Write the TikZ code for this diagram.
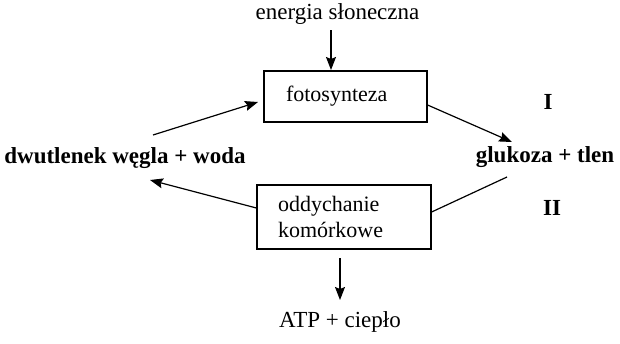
\documentclass[tikz,border=0pt]{standalone}
\usepackage{fontspec}
\setmainfont{Liberation Serif}
\usetikzlibrary{arrows.meta, positioning, calc}
\tikzset{
    plain/.style={font=\fontsize{23}{27}\selectfont, inner sep=0pt},
    heavy/.style={font=\fontsize{23}{27}\selectfont\bfseries, inner sep=0pt},
    procbox/.style={rectangle, draw=black, line width=1.2pt, align=left, font=\fontsize{22}{26}\selectfont, inner ysep=0pt},
    arrow/.style={line width=1.2pt, -{Stealth[length=13pt, width=10pt, inset=2pt]}},
    link/.style={line width=1.2pt}
}
\begin{document}
\begin{tikzpicture}[x=1pt, y=-1pt]
        \useasboundingbox (0,0) rectangle (620,343);
        % Labels
        \node[plain] (sun) at (337.5,14) {energia słoneczna};
        \node[heavy] (dwu) at (125,158) {dwutlenek węgla + woda};
        \node[heavy] (glu) at (545,157) {glukoza + tlen};
        \node[heavy] (lblI) at (548,102) {I};
        \node[heavy] (lblII) at (552,208) {II};
        \node[plain] (atp) at (340,322) {ATP + ciepło};
        
        % Processes
        \node[procbox, minimum width=163pt, minimum height=51pt, inner xsep=22pt, text width=119pt] (foto) at (345.5,96.5) {fotosynteza};
        \node[procbox, minimum width=174pt, minimum height=64pt, inner xsep=21pt, text width=132pt] (odd) at (344,217) {oddychanie\\komórkowe};
        
        % Connector ends
        \coordinate (sunOut) at (331,30);
        \coordinate (fotoIn) at (331,70);
        \coordinate (dwuOut) at (153,135);
        \coordinate (fotoL) at (258,102);
        \coordinate (gluIn) at (512,142);
        \coordinate (gluOut) at (507,177);
        \coordinate (dwuIn) at (150,180);
        \coordinate (oddOut) at (340,258);
        \coordinate (atpIn) at (340,300);
        
        % Arrows
        \draw[arrow] (sunOut) -- (fotoIn);
        \draw[arrow] (dwuOut) -- (fotoL);
        \draw[arrow] ($(foto.east)+(0,8.5)$) -- (gluIn);
        \draw[link] (gluOut) -- ($(odd.east)+(0,-5)$);
        \draw[arrow] ($(odd.west)+(0,-9)$) -- (dwuIn);
        \draw[arrow] (oddOut) -- (atpIn);
\end{tikzpicture}
\end{document}
